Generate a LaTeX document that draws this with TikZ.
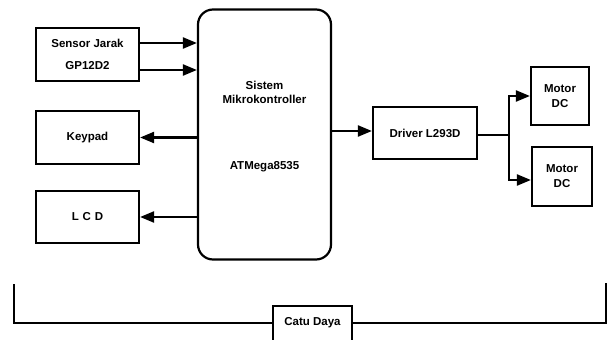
\documentclass[tikz,border=0pt]{standalone}
\usepackage{fontspec}
\setmainfont{Liberation Sans}
\usetikzlibrary{arrows.meta}
\begin{document}
\begin{tikzpicture}[x=1pt,y=-1pt,
  blk/.style={draw,line width=2.2pt,inner sep=0pt,font=\fontsize{11.5}{15}\selectfont\bfseries,align=center},
  txt/.style={font=\fontsize{11.5}{14}\selectfont\bfseries,align=center},
  arr/.style={line width=2.2pt,-{Triangle[length=14pt,width=11pt]}},
  ln/.style={line width=2.2pt}]
\useasboundingbox (0,0) rectangle (608,340);
% boxes
\node[blk,minimum width=103pt,minimum height=53pt] (sensor) at (87.5,54.5) {};
\node[txt] (st1) at (87.5,43) {Sensor Jarak};
\node[txt] (st2) at (87.5,66) {GP12D2};
\node[blk,minimum width=103pt,minimum height=53pt] (keypad) at (87.5,137.5) {Keypad};
\node[blk,minimum width=103pt,minimum height=52pt] (lcd) at (87.5,217) {L\,\,C\,\,D};
\node[blk,rounded corners=15pt,minimum width=133pt,minimum height=250pt] (mcu) at (264.5,134.5) {};
\node[txt] (mt1) at (264.5,92) {Sistem\\Mikrokontroller};
\node[txt] (mt2) at (264.5,167) {ATMega8535};
\node[blk,minimum width=104pt,minimum height=52pt] (drv) at (425,133) {Driver L293D};
\node[blk,minimum width=58pt,minimum height=58pt] (m1) at (560,96) {Motor\\DC};
\node[blk,minimum width=60pt,minimum height=59pt] (m2) at (562,176.5) {Motor\\DC};
\node[blk,minimum width=79pt,minimum height=40pt,anchor=north] (catu) at (312.5,305) {};
\node[txt] (ct) at (312.5,323) {Catu Daya};
% connectors
\draw[arr] (sensor.east |- 0,43) -- (mcu.west |- 0,43);
\draw[arr] (sensor.east |- 0,70) -- (mcu.west |- 0,70);
\draw[arr] (mcu.west |- keypad.east) -- (keypad.east);
\draw[arr] (mcu.west |- lcd.east) -- (lcd.east);
\draw[arr] (mcu.east |- 0,131) -- (drv.west |- 0,131);
\coordinate (split) at (509,135);
\draw[ln] (drv.east |- split) -- (split);
\draw[ln] (509,96) -- (509,180);
\draw[arr] (508,96) -- (m1.west);
\draw[arr] (508,180) -- (m2.west |- 0,180);
\coordinate (lt) at (14,284);
\coordinate (rt) at (606,283);
\draw[ln] (lt) -- (lt |- 0,323) -- (catu.west |- 0,323);
\draw[ln] (catu.east |- 0,323) -- (rt |- 0,323) -- (rt);
\end{tikzpicture}
\end{document}
